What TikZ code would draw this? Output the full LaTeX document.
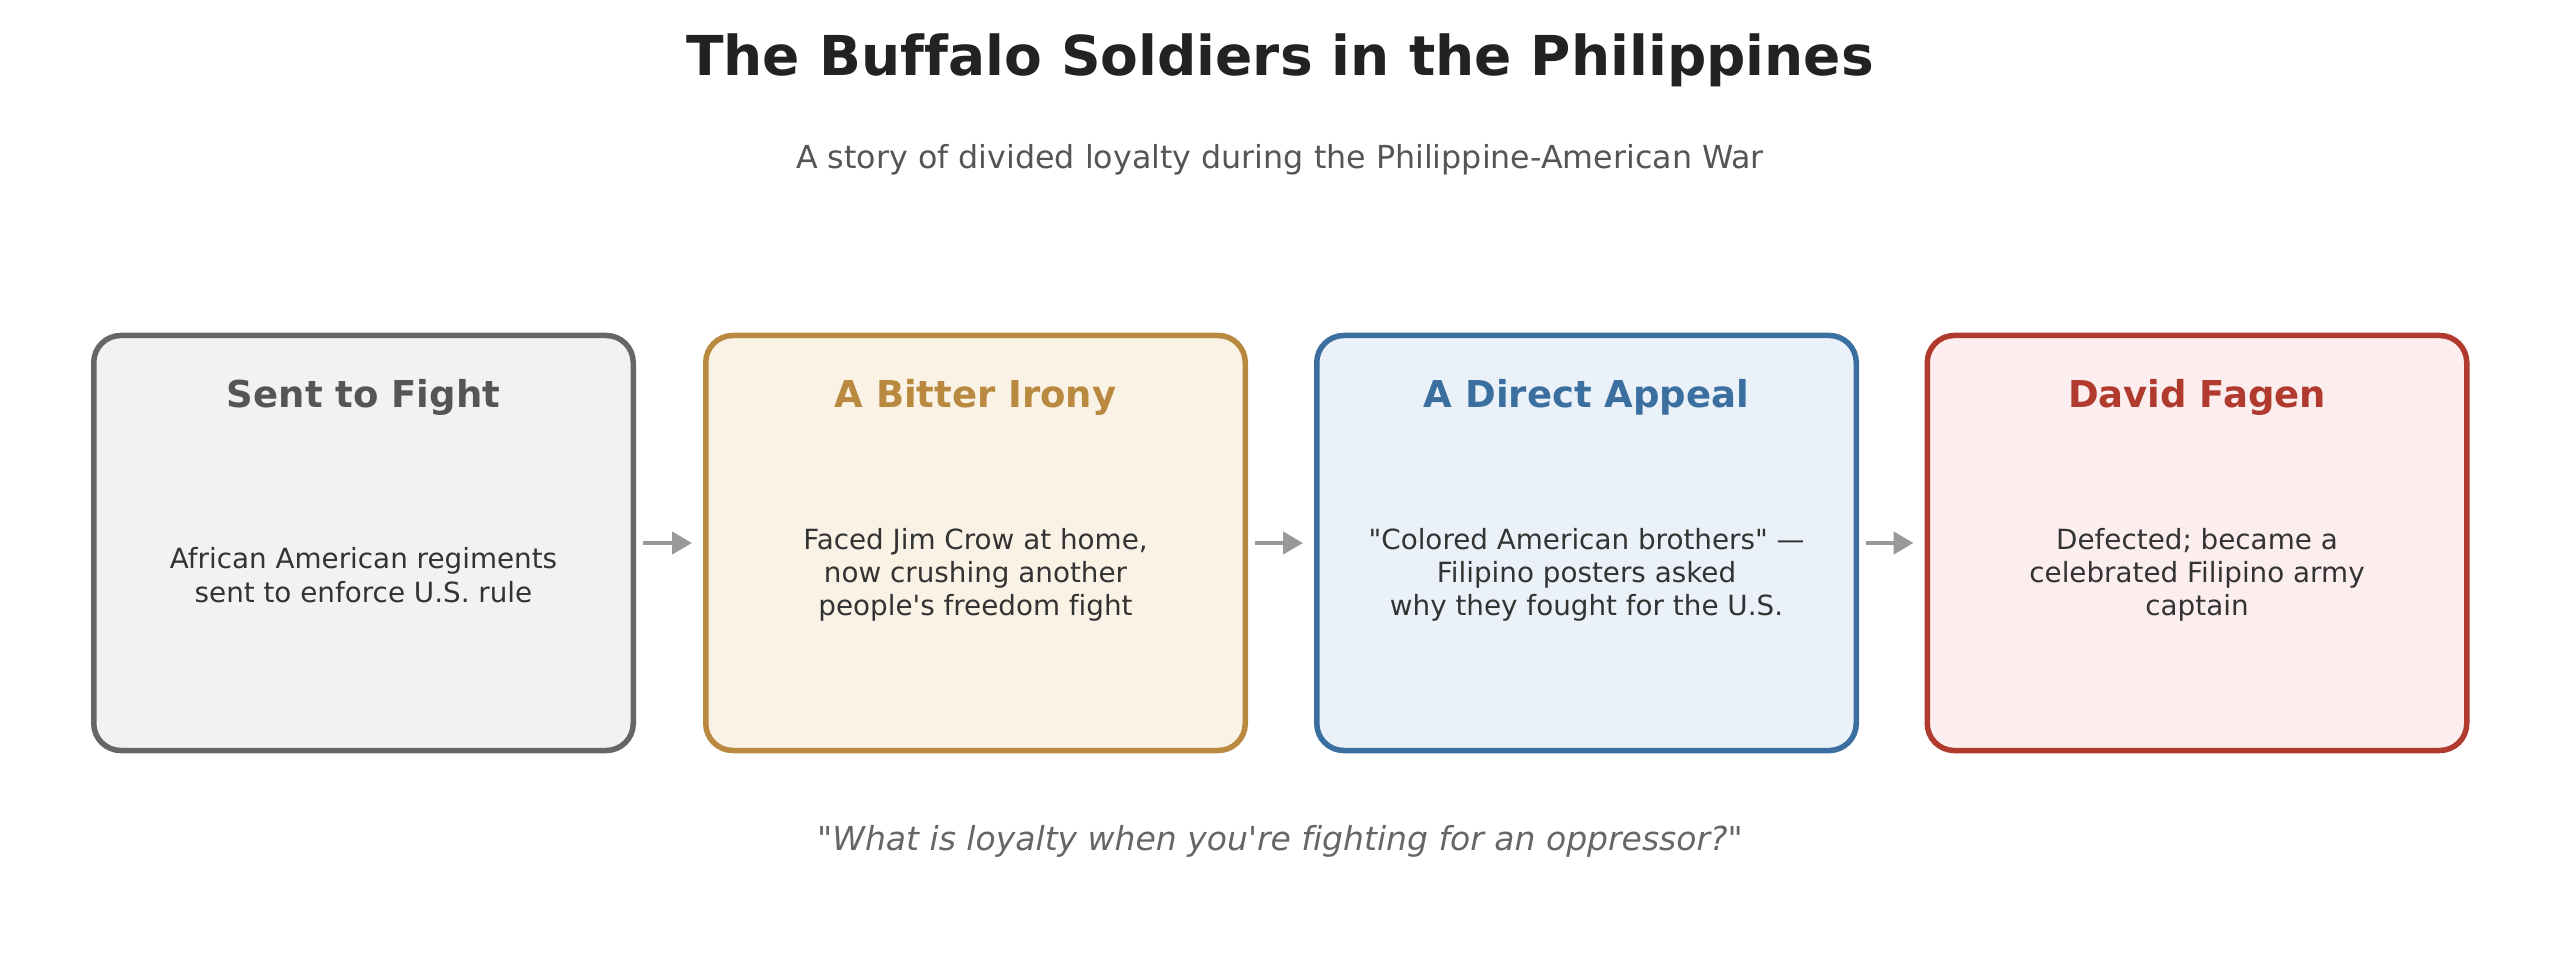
\documentclass[tikz,border=0pt]{standalone}
\usepackage{fontspec}
\setmainfont{DejaVu Sans}[Ligatures={TeXOff,NoCommon}]
\usetikzlibrary{arrows.meta}
\definecolor{titlec}{HTML}{222222}
\definecolor{subc}{HTML}{555555}
\definecolor{bodyc}{HTML}{333333}
\definecolor{quotec}{HTML}{666666}
\definecolor{arrc}{HTML}{999999}
\definecolor{grayb}{HTML}{666666}
\definecolor{grayf}{HTML}{F2F2F2}
\definecolor{grayt}{HTML}{555555}
\definecolor{goldb}{HTML}{B8893E}
\definecolor{goldf}{HTML}{FBF2E6}
\definecolor{blueb}{HTML}{3A6FA0}
\definecolor{bluef}{HTML}{EAF1F9}
\definecolor{redb}{HTML}{B03A2E}
\definecolor{redf}{HTML}{FCEEEE}
\tikzset{
  card/.style={draw, line width=5.5pt, rounded corners=27pt, minimum width=539.5pt, minimum height=415pt, inner sep=0pt},
  cardtitle/.style={font=\fontsize{37}{44}\selectfont\bfseries, inner sep=0pt, anchor=center},
  cardbody/.style={font=\fontsize{27.8}{33.3}\selectfont, text=bodyc, align=center, inner sep=0pt, anchor=center},
  arr/.style={draw=arrc, line width=4.5pt, -{Triangle[length=20pt,width=22pt]}},
}
\begin{document}
\begin{tikzpicture}[x=1pt,y=-1pt]
\useasboundingbox (0,0) rectangle (2560,973);
\node[font=\fontsize{55}{66}\selectfont\bfseries, text=titlec, inner sep=0pt] (title) at (1280,60) {The Buffalo Soldiers in the Philippines};
\node[font=\fontsize{31.7}{38}\selectfont, text=subc, inner sep=0pt] (sub) at (1280,160) {A story of divided loyalty during the Philippine-American War};

\node[card, draw=grayb, fill=grayf] (b1) at (363.5,543) {};
\node[card, draw=goldb, fill=goldf] (b2) at (975.5,543) {};
\node[card, draw=blueb, fill=bluef] (b3) at (1586.5,543) {};
\node[card, draw=redb, fill=redf] (b4) at (2197,543) {};

\node[cardtitle, text=grayt] (t1) at (363.5,397) {Sent to Fight};
\node[cardtitle, text=goldb] (t2) at (975.5,397) {A Bitter Irony};
\node[cardtitle, text=blueb] (t3) at (1586.5,397) {A Direct Appeal};
\node[cardtitle, text=redb] (t4) at (2197,397) {David Fagen};

\node[cardbody] (d1) at (363.5,575) {African American regiments\\sent to enforce U.S. rule};
\node[cardbody] (d2) at (975.5,575) {Faced Jim Crow at home,\\now crushing another\\people's freedom fight};
\node[cardbody] (d3) at (1586.5,575) {"Colored American brothers" —\\Filipino posters asked\\why they fought for the U.S.};
\node[cardbody] (d4) at (2197,575) {Defected; became a\\celebrated Filipino army\\captain};

\draw[arr] ([xshift=7pt]b1.east) -- ([xshift=-11pt]b2.west);
\draw[arr] ([xshift=7pt]b2.east) -- ([xshift=-11pt]b3.west);
\draw[arr] ([xshift=7pt]b3.east) -- ([xshift=-11pt]b4.west);

\node[font=\fontsize{33}{40}\selectfont\itshape, text=quotec, inner sep=0pt] (quote) at (1280,841) {"What is loyalty when you're fighting for an oppressor?"};
\end{tikzpicture}
\end{document}
